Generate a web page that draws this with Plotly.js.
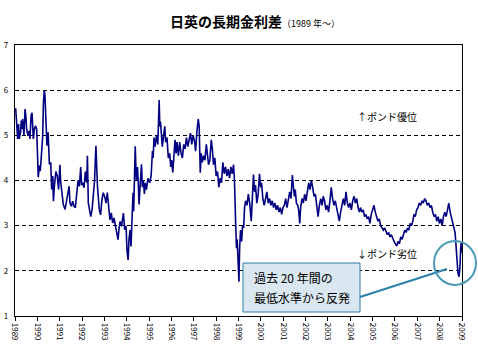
<!DOCTYPE html>
<html>
<head>
<meta charset="utf-8">
<script src="https://cdn.plot.ly/plotly-3.0.1.min.js"></script>
<style>html,body{margin:0;padding:0;background:#fff;}#chart{width:478px;height:355px;}</style>
</head>
<body>
<div id="chart"></div>
<script>
// Decimal-year dates of the readings
const years = [
1989.03,1989.075,1989.12,1989.16,1989.19,1989.25,1989.28,1989.31,1989.34,1989.40,1989.45,1989.49,1989.52,1989.58,1989.63,1989.67,1989.72,1989.76,1989.79,1989.82,1989.87,1989.91,1989.97,
1990.00,1990.04,1990.09,1990.13,1990.18,1990.21,1990.24,1990.27,1990.31,1990.34,1990.37,1990.40,1990.43,1990.48,1990.51,1990.54,1990.60,1990.64,1990.69,1990.72,1990.76,1990.83,1990.89,1990.95,
1991.01,1991.04,1991.10,1991.16,1991.24,1991.31,1991.37,1991.42,1991.46,1991.52,1991.58,1991.64,1991.70,1991.76,1991.82,1991.88,1991.94,1991.98,
1992.03,1992.09,1992.15,1992.21,1992.24,1992.28,1992.33,1992.39,1992.45,1992.50,1992.56,1992.62,1992.65,1992.69,1992.77,1992.83,1992.89,1992.95,
1993.03,1993.07,1993.13,1993.19,1993.25,1993.31,1993.37,1993.43,1993.49,1993.55,1993.61,1993.65,1993.70,1993.77,1993.85,1993.91,1993.97,
1994.01,1994.06,1994.10,1994.15,1994.19,1994.24,1994.28,1994.31,1994.35,1994.38,1994.43,1994.48,1994.52,1994.55,1994.60,1994.66,1994.70,1994.74,1994.79,1994.83,1994.88,1994.95,
1995.03,1995.09,1995.15,1995.18,1995.22,1995.27,1995.33,1995.39,1995.45,1995.48,1995.51,1995.55,1995.59,1995.65,1995.70,1995.74,1995.80,1995.86,1995.92,1995.97,
1996.01,1996.06,1996.10,1996.16,1996.21,1996.25,1996.31,1996.37,1996.43,1996.49,1996.55,1996.61,1996.67,1996.73,1996.79,1996.85,1996.91,1996.97,
1997.04,1997.08,1997.14,1997.20,1997.24,1997.29,1997.33,1997.38,1997.44,1997.50,1997.56,1997.60,1997.66,1997.72,1997.78,1997.83,1997.88,1997.94,
1998.00,1998.06,1998.12,1998.18,1998.24,1998.30,1998.36,1998.42,1998.48,1998.54,1998.60,1998.66,1998.72,1998.78,1998.82,1998.87,1998.91,1998.94,1998.97,
1999.02,1999.05,1999.09,1999.14,1999.18,1999.23,1999.27,1999.32,1999.38,1999.44,1999.50,1999.57,1999.61,1999.67,1999.72,1999.76,1999.82,1999.88,1999.94,1999.99,
2000.03,2000.09,2000.15,2000.21,2000.27,2000.33,2000.39,2000.45,2000.51,2000.57,2000.63,2000.69,2000.75,2000.81,2000.87,2000.93,2000.99,
2001.05,2001.11,2001.17,2001.23,2001.29,2001.35,2001.41,2001.45,2001.50,2001.54,2001.59,2001.65,2001.69,2001.74,2001.78,2001.84,2001.90,2001.96,
2002.02,2002.08,2002.14,2002.20,2002.26,2002.32,2002.38,2002.44,2002.50,2002.56,2002.62,2002.68,2002.74,2002.79,2002.85,2002.91,2002.97,
2003.03,2003.09,2003.15,2003.21,2003.27,2003.33,2003.39,2003.45,2003.51,2003.57,2003.63,2003.69,2003.75,2003.81,2003.87,2003.93,2003.99,
2004.05,2004.11,2004.17,2004.23,2004.29,2004.35,2004.41,2004.46,2004.52,2004.58,2004.64,2004.70,2004.76,2004.82,2004.88,2004.94,2005.00,
2005.06,2005.12,2005.18,2005.24,2005.30,2005.36,2005.42,2005.48,2005.54,2005.60,2005.66,2005.72,2005.78,2005.84,2005.90,2005.96,
2006.02,2006.08,2006.14,2006.20,2006.26,2006.32,2006.38,2006.44,2006.50,2006.56,2006.62,2006.68,2006.74,2006.80,2006.85,2006.91,2006.97,
2007.03,2007.09,2007.15,2007.21,2007.27,2007.33,2007.39,2007.45,2007.51,2007.57,2007.63,2007.69,2007.75,2007.81,2007.87,2007.93,2007.99,
2008.05,2008.11,2008.17,2008.23,2008.29,2008.35,2008.41,2008.47,2008.53,2008.58,2008.64,2008.69,2008.73,2008.78,2008.82,2008.87,2008.91,2008.94,2008.97,2008.99
];
// Japan-UK long-term interest rate spread (%)
const spread = [
5.60,5.14,4.92,5.25,4.92,5.07,5.33,5.14,5.36,5.00,5.58,5.40,5.14,4.99,5.10,4.92,5.44,5.50,5.21,4.92,5.14,5.21,5.14,
4.36,4.07,4.33,4.21,4.55,4.84,4.99,5.70,6.00,5.88,5.59,5.21,4.77,5.07,4.55,4.36,4.40,3.80,4.10,3.54,3.87,4.20,4.10,3.80,
4.35,4.00,3.73,3.47,3.36,3.58,3.80,3.87,3.50,3.43,3.54,3.43,3.40,3.73,4.00,3.87,4.30,3.90,
3.95,3.84,4.20,3.95,4.55,3.50,3.32,3.20,3.36,3.73,4.00,4.77,4.40,3.87,3.36,3.24,3.58,3.73,
3.61,3.50,3.73,3.36,3.13,3.28,3.06,3.17,2.99,2.91,2.69,2.91,3.09,2.99,3.28,2.91,2.99,
2.47,2.24,2.69,2.91,2.54,3.13,3.73,3.32,4.00,4.76,4.00,4.30,3.90,3.47,3.90,4.36,3.85,4.00,3.70,3.95,3.80,4.05,
3.95,4.10,4.65,4.50,4.95,4.75,5.00,4.80,5.78,5.20,5.30,4.90,4.75,5.00,5.20,4.85,4.95,4.50,4.60,4.30,
4.45,4.18,4.50,4.90,4.60,4.85,4.55,4.85,4.60,4.50,4.80,4.70,4.95,4.75,4.90,5.05,4.80,5.00,
4.85,4.65,5.10,5.36,5.20,4.17,4.60,4.40,4.55,4.45,4.80,4.60,4.35,4.45,4.90,4.70,4.35,4.50,
4.10,4.20,3.85,4.05,3.95,4.40,4.15,4.30,4.10,4.25,4.05,4.30,4.15,4.35,4.00,3.10,2.50,2.70,2.40,
1.76,2.50,2.90,2.65,3.00,2.95,3.40,3.55,3.45,3.70,3.50,3.10,3.60,4.13,3.75,3.90,3.50,3.70,4.15,3.85,
3.95,3.60,3.45,3.60,3.75,3.50,3.60,3.45,3.55,3.40,3.50,3.35,3.45,3.30,3.40,3.25,3.40,
3.45,3.60,3.40,3.55,3.75,3.60,4.12,3.90,3.65,3.80,3.50,3.45,3.35,3.05,3.40,3.60,3.50,3.70,
3.55,3.75,3.95,3.80,4.00,3.85,3.65,3.70,3.40,3.20,3.45,3.60,3.45,3.65,3.55,3.35,3.45,
3.30,3.55,3.85,3.60,3.45,3.55,3.40,3.30,3.10,3.30,3.50,3.60,3.45,3.75,3.50,3.40,3.50,
3.35,3.55,3.65,3.50,3.60,3.40,3.30,3.40,3.30,3.35,3.20,3.25,3.15,3.20,3.05,3.25,3.35,
3.45,3.30,3.20,3.10,3.15,3.00,2.95,2.90,2.95,2.85,2.80,2.85,2.75,2.80,2.70,2.65,
2.60,2.55,2.65,2.60,2.75,2.70,2.80,2.90,2.85,2.95,2.90,3.05,3.00,3.10,3.25,3.20,3.35,
3.40,3.50,3.45,3.55,3.50,3.60,3.55,3.45,3.50,3.40,3.45,3.30,3.20,3.25,3.10,3.20,3.05,
3.15,3.00,3.20,3.30,3.20,3.40,3.50,3.30,3.15,3.05,2.95,2.85,2.50,2.20,1.95,1.87,2.10,2.50,2.64,2.40
];
const tickYears = [1989,1990,1991,1992,1993,1994,1995,1996,1997,1998,1999,2000,2001,2002,2003,2004,2005,2006,2007,2008,2009];
const tickLabels = tickYears.map(String);

const JP = '"Noto Sans CJK JP", "Noto Sans", sans-serif';
const W = 478, H = 355, L = 15, R = 16, T = 45, B = 39;
const pw = W - L - R, ph = H - T - B;
const px = v => (v - L) / pw;            // pixel -> paper x
const py = v => (H - B - v) / ph;        // pixel -> paper y

const trace = {
  x: years, y: spread, type: 'scatter', mode: 'lines',
  line: {color: '#000080', width: 1.6}, hoverinfo: 'skip'
};

const layout = {
  width: W, height: H,
  margin: {l: L, r: R, t: T, b: B, pad: 0},
  paper_bgcolor: '#fff', plot_bgcolor: '#fff',
  showlegend: false,
  font: {family: JP, color: '#000', size: 8},
  title: {
    text: '<b>日英の長期金利差</b><span style="font-size:9px">（1989 年～）</span>',
    font: {family: JP, size: 14, color: '#000'},
    x: 255 / W, xref: 'container', xanchor: 'center',
    y: 1 - 22 / H, yref: 'container', yanchor: 'middle'
  },
  xaxis: {
    range: [1989, 2009], tickmode: 'array', tickvals: tickYears, ticktext: tickLabels,
    tickangle: 90, ticks: 'outside', ticklen: 4, tickcolor: '#000', tickwidth: 1,
    showgrid: false, zeroline: false, showline: true, linecolor: '#000', linewidth: 1.2, mirror: true,
    tickfont: {family: JP, size: 8, color: '#000'}, fixedrange: true
  },
  yaxis: {
    range: [1, 7], dtick: 1, tick0: 1, ticks: '', showgrid: true, gridcolor: '#000', gridwidth: 1,
    griddash: '4px,3px', zeroline: false, showline: true, linecolor: '#000', linewidth: 1.2, mirror: true,
    tickfont: {family: JP, size: 8, color: '#000'}, ticklabelstandoff: 4, fixedrange: true
  },
  shapes: [
    {type: 'rect', xref: 'paper', yref: 'paper', x0: px(243), x1: px(360), y0: py(312), y1: py(263),
     fillcolor: '#dae7f1', line: {color: '#2f7fa8', width: 1}},
    {type: 'line', xref: 'paper', yref: 'paper', x0: px(360), y0: py(297), x1: px(447), y1: py(269),
     line: {color: '#2a80aa', width: 2}},
    {type: 'circle', xref: 'paper', yref: 'paper', x0: px(434), x1: px(476), y0: py(285), y1: py(241),
     line: {color: '#4c9bb8', width: 2}, fillcolor: 'rgba(0,0,0,0)'}
  ],
  annotations: [
    {xref: 'paper', yref: 'paper', x: px(387), y: py(117), text: '↑ポンド優位', showarrow: false,
     xanchor: 'center', yanchor: 'middle', font: {family: JP, size: 10, color: '#000'}},
    {xref: 'paper', yref: 'paper', x: px(387), y: py(253), text: '↓ポンド劣位', showarrow: false,
     xanchor: 'center', yanchor: 'middle', font: {family: JP, size: 10, color: '#000'}},
    {xref: 'paper', yref: 'paper', x: px(252), y: py(277), text: '過去 20 年間の', showarrow: false,
     xanchor: 'left', yanchor: 'middle', font: {family: JP, size: 12, color: '#000'}},
    {xref: 'paper', yref: 'paper', x: px(252), y: py(297), text: '最低水準から反発', showarrow: false,
     xanchor: 'left', yanchor: 'middle', font: {family: JP, size: 12, color: '#000'}}
  ]
};

Plotly.newPlot('chart', [trace], layout, {displayModeBar: false, staticPlot: true});
</script>
</body>
</html>
